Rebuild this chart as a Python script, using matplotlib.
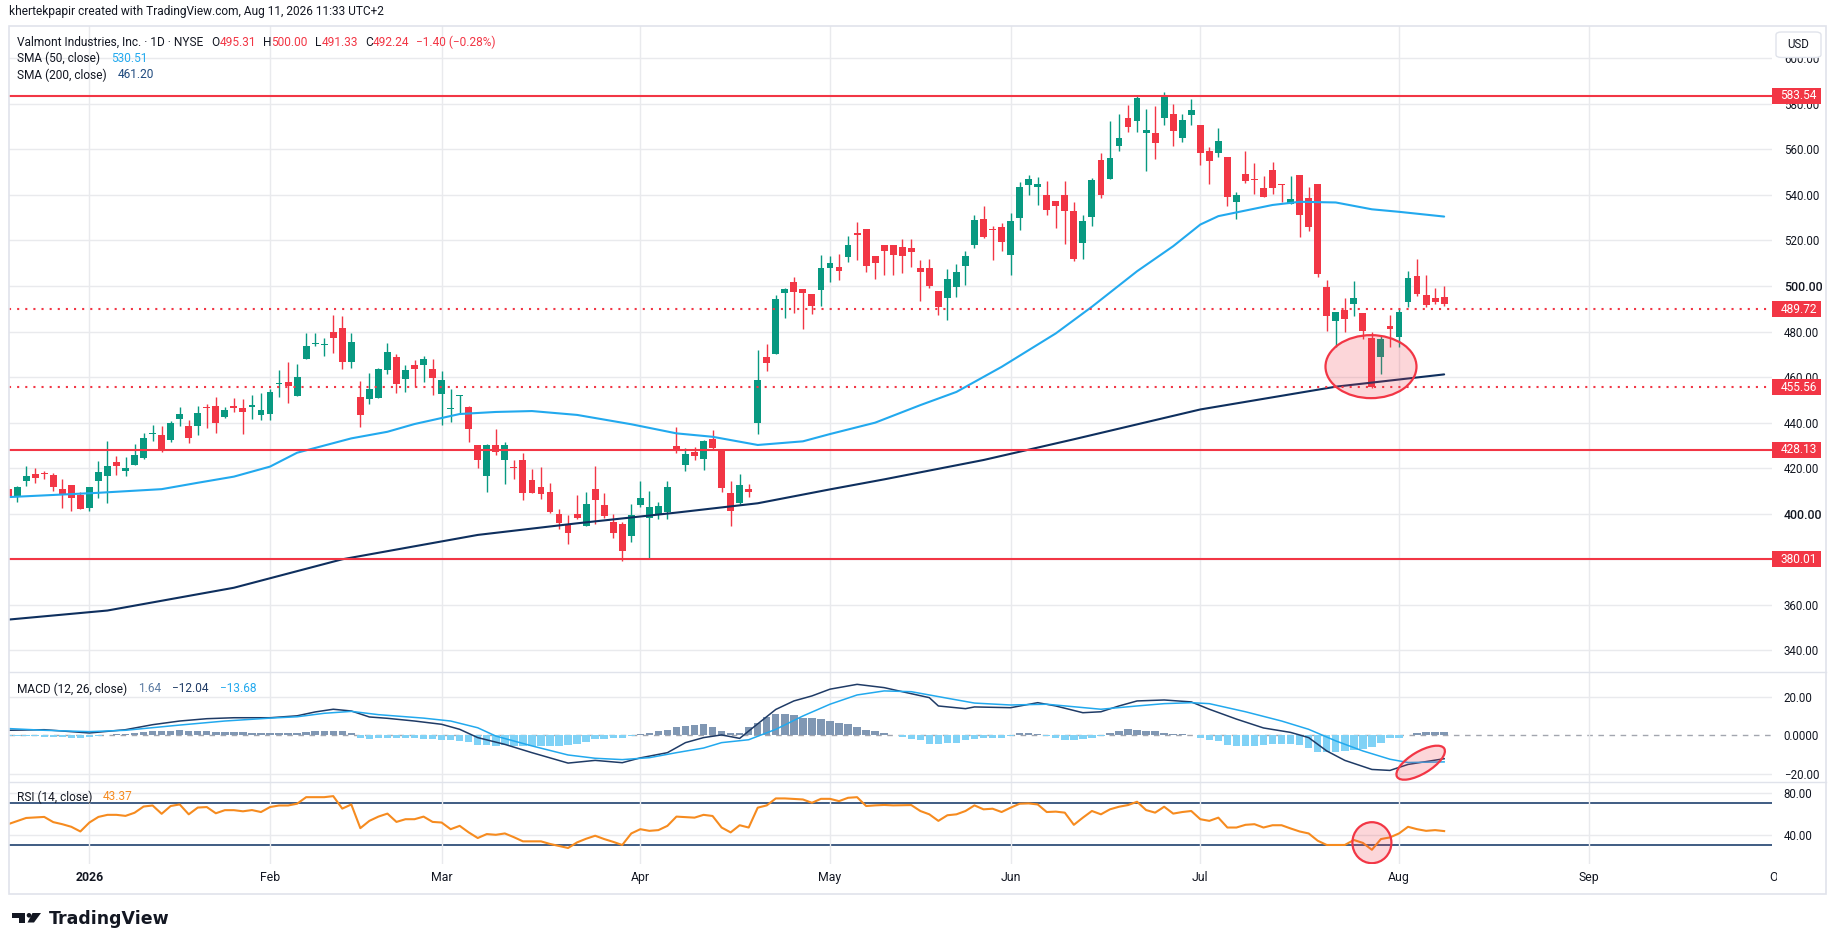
import matplotlib
matplotlib.use("Agg")
import matplotlib.pyplot as plt
import matplotlib.transforms as mtransforms
from matplotlib.lines import Line2D
from matplotlib.patches import Ellipse, Rectangle, FancyBboxPatch, Polygon, Circle
import numpy as np

plt.rcParams['font.family'] = ['Roboto', 'DejaVu Sans']

# daily bars, bar index 0 = first session of 2026 (Jan 2)
first_bar = -9

opens = [411.0, 407.5, 414.5, 417.4, 418.0, 417.0, 410.9, 412.6, 408.2, 402.7,
         414.5, 416.7, 422.6, 418.9, 421.5, 424.5, 435.0, 434.6, 432.5, 441.7,
         438.5, 438.7, 447.0, 447.3, 442.6, 447.3, 446.4, 447.0, 443.5, 443.9,
         456.8, 457.8, 451.8, 468.1, 474.5, 474.0, 479.8, 481.5, 466.8, 451.1,
         450.2, 451.0, 463.3, 468.7, 459.3, 465.3, 465.5, 463.4, 452.7, 446.2,
         451.5, 446.9, 430.0, 416.7, 430.0, 423.8, 420.3, 423.6, 414.8, 411.8,
         409.5, 399.9, 395.5, 399.7, 394.8, 410.8, 403.8, 396.2, 395.5, 390.4,
         404.0, 398.3, 399.9, 400.8, 429.7, 421.4, 427.3, 424.0, 432.8, 428.0,
         408.9, 404.6, 410.9, 440.0, 468.7, 470.3, 497.1, 501.6, 498.5, 496.3,
         498.4, 508.0, 508.3, 512.9, 523.2, 525.0, 513.2, 518.0, 518.0, 517.1,
         516.7, 507.9, 507.9, 497.8, 494.9, 499.7, 508.9, 518.1, 529.4, 525.0,
         525.9, 513.7, 530.0, 544.5, 543.3, 539.9, 537.3, 539.9, 532.9, 519.0,
         530.4, 555.3, 547.1, 561.6, 573.6, 572.6, 567.0, 567.2, 573.9, 575.5,
         565.1, 575.2, 570.7, 559.3, 558.5, 556.6, 536.7, 549.2, 547.0, 543.0,
         550.9, 544.7, 535.9, 548.7, 538.6, 544.8, 499.4, 484.8, 489.6, 491.9,
         488.0, 477.2, 469.0, 482.3, 477.7, 492.8, 504.3, 495.9, 494.6, 495.31]
highs = [412.5, 412.3, 421.1, 420.1, 418.7, 417.7, 415.2, 412.6, 409.4, 411.6,
         423.2, 431.9, 425.3, 424.8, 430.6, 435.4, 438.8, 438.5, 440.9, 447.0,
         441.2, 447.3, 448.0, 451.3, 446.8, 450.8, 450.4, 452.1, 453.0, 454.8,
         463.1, 466.8, 465.7, 479.5, 479.5, 477.3, 487.3, 486.8, 479.4, 458.3,
         461.8, 464.0, 475.0, 470.1, 465.3, 467.5, 469.3, 467.9, 462.7, 454.8,
         452.1, 447.3, 430.0, 430.6, 437.3, 431.3, 423.6, 426.7, 419.6, 420.5,
         413.5, 402.1, 399.3, 408.2, 409.5, 420.8, 409.0, 399.9, 396.5, 404.3,
         414.4, 410.0, 405.2, 414.4, 438.1, 428.7, 429.2, 432.4, 436.8, 428.0,
         414.4, 417.3, 413.1, 471.9, 474.5, 495.9, 499.3, 503.9, 498.5, 496.3,
         513.6, 513.2, 514.0, 521.9, 528.1, 525.0, 513.2, 518.0, 518.0, 520.6,
         520.6, 511.4, 511.8, 497.8, 507.5, 509.6, 515.4, 531.2, 535.1, 526.3,
         527.8, 532.0, 545.7, 548.9, 548.1, 546.1, 537.3, 546.1, 537.0, 531.2,
         547.4, 558.4, 572.4, 575.5, 579.3, 583.3, 577.7, 579.0, 585.2, 580.1,
         575.7, 582.1, 570.7, 560.9, 569.4, 556.6, 541.3, 559.3, 554.0, 548.3,
         554.4, 544.7, 548.3, 548.7, 543.3, 544.8, 502.5, 488.6, 494.6, 502.2,
         488.0, 479.6, 478.3, 487.1, 490.0, 506.6, 511.9, 504.8, 499.0, 500.00]
lows = [406.0, 405.3, 412.3, 413.6, 415.2, 410.0, 402.7, 401.3, 401.9, 401.3,
        407.1, 404.8, 417.2, 416.7, 421.5, 424.0, 432.1, 427.1, 431.6, 438.7,
        431.2, 434.7, 437.8, 435.6, 441.9, 444.8, 435.2, 441.7, 441.2, 441.3,
        451.4, 448.8, 451.8, 468.1, 473.8, 469.4, 470.7, 463.7, 464.1, 438.2,
        448.3, 451.0, 461.5, 453.2, 453.6, 455.8, 458.0, 452.3, 439.0, 440.4,
        444.1, 431.6, 420.2, 409.7, 425.8, 413.2, 415.4, 406.2, 409.3, 406.6,
        400.3, 393.2, 386.9, 397.8, 394.8, 395.6, 398.3, 389.5, 379.4, 387.7,
        402.9, 380.3, 397.5, 397.5, 426.8, 418.9, 423.6, 419.3, 428.3, 409.7,
        394.8, 404.3, 407.5, 435.0, 462.8, 470.3, 486.1, 488.3, 481.3, 487.9,
        491.4, 501.9, 502.8, 510.7, 511.5, 506.3, 503.1, 504.8, 504.8, 505.7,
        508.5, 493.6, 499.0, 487.4, 485.2, 495.3, 500.4, 516.8, 520.9, 511.5,
        515.5, 505.0, 524.6, 540.1, 535.7, 531.3, 525.6, 518.6, 511.1, 512.0,
        526.5, 538.8, 547.1, 559.4, 567.5, 567.6, 550.6, 555.9, 570.7, 561.6,
        563.4, 570.7, 553.1, 544.8, 556.6, 535.3, 529.4, 545.4, 540.3, 539.1,
        540.3, 536.7, 535.9, 521.7, 524.0, 503.8, 480.4, 473.4, 480.0, 487.0,
        476.9, 455.1, 461.5, 473.3, 473.4, 490.8, 495.8, 490.6, 491.9, 491.33]
closes = [407.5, 411.6, 416.6, 415.8, 417.3, 411.9, 408.8, 407.1, 402.2, 411.6,
          418.2, 421.0, 421.1, 420.1, 425.8, 433.2, 435.5, 427.7, 439.8, 443.7,
          433.4, 444.2, 446.4, 440.0, 445.5, 446.6, 444.8, 447.7, 445.5, 453.4,
          457.0, 456.2, 459.9, 473.6, 474.8, 474.3, 477.3, 466.8, 475.4, 443.5,
          454.6, 463.6, 471.0, 457.1, 463.1, 463.6, 467.9, 459.7, 458.7, 446.5,
          451.7, 437.3, 423.7, 430.3, 427.3, 430.2, 420.0, 409.3, 409.3, 408.8,
          400.9, 396.1, 391.7, 398.3, 404.3, 406.2, 399.0, 391.7, 383.8, 399.4,
          406.9, 402.8, 403.4, 411.8, 427.4, 426.2, 425.5, 431.9, 429.0, 411.4,
          401.3, 412.5, 409.7, 458.7, 466.3, 494.3, 498.5, 497.5, 497.1, 491.4,
          507.9, 510.1, 506.7, 518.0, 522.5, 508.9, 510.2, 515.5, 513.7, 513.3,
          515.1, 506.3, 500.0, 490.9, 503.1, 506.1, 513.2, 529.0, 521.7, 524.5,
          519.5, 528.5, 543.5, 547.0, 544.8, 533.5, 535.3, 533.1, 512.0, 528.5,
          546.5, 539.9, 556.2, 565.0, 570.0, 582.5, 568.5, 562.9, 583.6, 568.2,
          572.9, 577.3, 558.5, 555.0, 563.7, 539.2, 540.2, 546.2, 546.7, 539.2,
          543.2, 544.3, 538.2, 531.3, 525.8, 505.1, 487.0, 488.6, 485.7, 494.6,
          480.4, 455.8, 476.6, 481.3, 488.4, 503.4, 496.3, 491.5, 493.1, 492.24]

sma50_bar = [-9, 1, 8, 12, 16, 20, 23, 29, 33, 36, 41, 45, 49, 54, 60, 65, 69, 74,
             79, 82, 87, 92, 96, 101, 107, 111, 116, 120, 123, 125, 131, 134, 138,
             142, 145, 150]
sma50_val = [407.3, 409.2, 410.8, 413.6, 416.3, 420.7, 426.8, 433.1, 436.0, 439.4,
             443.8, 444.7, 445.1, 443.4, 439.3, 435.3, 433.8, 430.2, 431.8, 435.0,
             440.0, 447.7, 453.5, 464.5, 479.2, 490.9, 506.5, 517.5, 527.0, 530.7,
             535.6, 537.0, 536.7, 533.7, 532.6, 530.51]
sma200_bar = [-9, 2, 16, 28, 43, 54, 65, 74, 82, 88, 99, 109, 123, 138, 150]
sma200_val = [353.5, 357.5, 367.5, 380.0, 390.7, 395.8, 400.5, 404.6, 410.7, 415.1,
              423.6, 432.7, 445.8, 455.8, 461.20]

macd_bar = [-9, -5, 0, 4, 7, 10, 13, 16, 20, 23, 25, 27, 29, 31, 33, 36, 39, 41, 43,
            46, 49, 53, 56, 59, 61, 64, 66, 68, 70, 72, 73, 76, 78, 80, 82, 85, 88,
            90, 93, 94, 97, 98, 102, 105, 107, 110, 112, 114, 116, 119, 122, 124,
            127, 130, 133, 135, 137, 139, 142, 144, 146, 150]
macd_val = [2.7, 3.0, 1.3, 3.0, 5.6, 7.5, 8.7, 9.2, 9.2, 10.2, 12.2, 13.6, 12.7, 9.6,
            8.9, 7.5, 5.8, 3.2, -1.1, -4.6, -8.9, -14.3, -12.9, -14.1, -11.6, -8.9,
            -3.7, -1.1, 0.3, -1.5, 2.3, 13.5, 17.9, 20.5, 24.0, 26.5, 24.8, 22.7,
            19.6, 15.3, 13.9, 14.8, 14.4, 17.0, 15.3, 11.8, 12.3, 15.3, 17.9, 18.4,
            17.4, 13.6, 8.5, 3.9, 1.6, -1.1, -8.0, -12.9, -17.6, -18.1, -15.0, -12.04]
signal_bar = [-9, -5, 0, 4, 10, 15, 20, 23, 26, 29, 32, 37, 40, 43, 45, 49, 53, 56,
              59, 62, 65, 68, 70, 73, 76, 79, 82, 85, 88, 91, 95, 98, 102, 106, 112,
              116, 119, 122, 124, 128, 132, 135, 138, 141, 144, 146, 150]
signal_val = [3.6, 2.7, 2.0, 2.7, 5.4, 7.5, 9.0, 9.7, 11.5, 12.5, 10.8, 9.0, 7.5, 4.0,
              -0.3, -5.4, -10.1, -11.8, -12.5, -11.5, -8.9, -6.5, -3.7, -2.2, 3.2,
              10.1, 16.2, 21.0, 23.1, 22.7, 19.3, 16.8, 15.8, 16.2, 13.6, 15.3, 16.5,
              17.0, 16.5, 12.3, 7.5, 3.2, -2.8, -8.0, -12.3, -14.0, -13.68]
hist_val = [-0.3, -0.3, -0.3, -0.4, -0.6, -0.8, -1.0, -1.2, -1.4, -0.9,
            -0.5, 0.3, 0.6, 0.9, 1.4, 1.8, 2.2, 2.3, 2.5, 3.0,
            2.4, 2.3, 2.3, 1.8, 1.8, 1.8, 1.6, 1.5, 1.4, 1.3,
            1.3, 1.3, 1.4, 2.0, 2.3, 2.4, 2.3, 2.2, 1.1, -1.1,
            -1.6, -1.4, -1.3, -1.4, -1.5, -1.5, -1.6, -2.0, -2.3, -2.4,
            -2.6, -3.6, -4.8, -5.0, -5.2, -5.0, -5.2, -5.3, -5.3, -5.3,
            -5.3, -5.3, -4.9, -4.2, -3.6, -1.8, -1.6, -1.1, -1.1, -0.5,
            0.6, 1.3, 2.2, 3.0, 4.4, 4.7, 5.4, 5.7, 4.4, 2.3,
            1.5, 1.3, 4.4, 6.6, 9.6, 11.0, 11.3, 10.6, 9.1, 9.1,
            8.4, 7.5, 6.6, 6.1, 4.4, 2.8, 2.3, 1.3, 0.4, -0.6,
            -1.6, -2.2, -4.2, -4.2, -4.1, -3.7, -2.2, -1.6, -1.5, -1.1,
            -1.5, -0.3, 1.3, 1.3, 0.6, -0.4, -1.1, -2.5, -2.5, -1.8,
            -1.5, -0.4, 1.3, 2.3, 3.4, 2.8, 2.2, 2.3, 1.5, 0.9,
            0.6, 0.3, -1.1, -2.2, -2.8, -5.1, -5.4, -5.4, -5.4, -5.1,
            -4.6, -4.6, -4.6, -4.9, -6.6, -8.5, -8.5, -8.5, -8.0, -7.7,
            -7.2, -6.0, -3.7, -1.5, -1.1, 0.1, 1.1, 1.6, 1.6, 1.64]
rsi_val = [50, 53, 56, 56.5, 57, 52, 50, 47.5, 43, 51.6,
           57, 59, 59, 58, 61, 67, 68, 60, 67.5, 69,
           59.5, 66, 66.5, 60.5, 63.5, 63.5, 62.4, 63.6, 61.7, 66.5,
           68, 68, 69.7, 76, 76, 76, 77, 65, 69, 46.2,
           53.2, 57.3, 60.2, 52.2, 54.8, 54.8, 57.3, 52.2, 51.6, 45.2,
           48.4, 42.1, 36.7, 40.5, 39.8, 41.1, 37.5, 33.5, 33.5, 33.5,
           31, 29, 27.1, 32.5, 36, 38.9, 35.7, 33, 30, 41.1,
           45.2, 43.6, 44.3, 48.4, 57.3, 56.8, 56.3, 59, 57.9, 46.8,
           42.1, 49, 46.8, 65.9, 68.1, 74.8, 74.8, 74.3, 73.8, 70.6,
           74.4, 74.4, 72.2, 75.4, 76, 67.5, 68.1, 68.5, 68.1, 68.2,
           68.4, 62.7, 59.5, 53.2, 58.6, 59.5, 62.7, 68.1, 64.3, 64.9,
           61.7, 65.9, 69.7, 70, 69, 61.7, 62.1, 61.1, 49.4, 56.3,
           62.7, 59.5, 64.3, 66.8, 68.4, 71.6, 63.6, 61.1, 66.8, 60.2,
           61.7, 62.7, 54.8, 53.2, 56.3, 46.8, 46.8, 49.4, 50, 46.8,
           49, 49, 45.9, 43, 41.1, 34.1, 30, 30, 30, 34.8,
           32, 25.4, 35.7, 37.3, 41.1, 47.5, 45.2, 43.6, 44.3, 43.37]

solid_levels = [583.54, 428.13, 380.01]
dotted_levels = [489.72, 455.56]

month_names = ['2026', 'Feb', 'Mar', 'Apr', 'May', 'Jun', 'Jul', 'Aug', 'Sep', 'Oct']
month_bar = [0, 20, 39, 61, 82, 102, 123, 145, 166, 187]

price_ticks = list(range(340, 601, 20))
strong_ticks = [400, 500]

# highlighted areas: (bar, value)
mark_price = (141.9, 464.6)
mark_macd = (147.4, -14.1)
mark_rsi = (142.0, 32.2)

# ---- styling ----
GREEN = '#089981'
RED = '#F23645'
TXT = '#131722'
GRID = '#E9EAED'
BORDER = '#E0E3EB'
SMA50_C = '#22A9EE'
SMA200_C = '#0E2F5E'
MACD_C = '#1F3B66'
SIG_C = '#22A9EE'
HPOS = '#8097B3'
HNEG = '#80D2F6'
RSI_C = '#F68B1F'
BAND_C = '#0C3062'
FILL = (0.949, 0.212, 0.271, 0.2)

W, H = 1835, 951
fig = plt.figure(figsize=(W / 100, H / 100), dpi=100)
fig.patch.set_facecolor('white')


def rect(x0, y0, x1, y1):
    return [x0 / W, 1 - y1 / H, (x1 - x0) / W, (y1 - y0) / H]


PL, PR = 9, 1772
BAR_PX = 9.03
ax_p = fig.add_axes(rect(PL, 26, PR, 672))
ax_m = fig.add_axes(rect(PL, 672, PR, 782))
ax_r = fig.add_axes(rect(PL, 782, PR, 864))
# time axis reaches a few px under the price scale, like the clipped "Oct"
ax_t = fig.add_axes(rect(PL, 864, PR + 5, 894))

XL = (-8.9, 186.3)
for ax in (ax_p, ax_m, ax_r, ax_t):
    ax.set_xlim(*XL)
    for s in ax.spines.values():
        s.set_visible(False)
    ax.set_xticks(month_bar[:-1])
    ax.tick_params(axis='x', length=0, labelbottom=False)
    ax.yaxis.tick_right()
    ax.tick_params(axis='y', length=0, pad=8.5, labelsize=8.3, labelcolor=TXT)
    ax.set_facecolor('none')
ax_t.set_xlim(XL[0], XL[1] + 5 / BAR_PX)

for ax in (ax_p, ax_m, ax_r):
    ax.grid(axis='x', color=GRID, lw=1, zorder=0)

# ---- price pane ----
ax_p.set_ylim(330.5, 614.2)
ax_p.set_yticks(price_ticks)
ax_p.set_yticklabels([f'{v:.2f}' for v in price_ticks])
for lab, v in zip(ax_p.get_yticklabels(), price_ticks):
    if v in strong_ticks:
        lab.set_fontsize(8.9)
        lab.set_fontweight('medium')
ax_p.grid(axis='y', color=GRID, lw=1, zorder=0)

bars = np.arange(first_bar, first_bar + len(closes))
o = np.array(opens); hi = np.array(highs); lo = np.array(lows); c = np.array(closes)
col = np.where(c >= o, GREEN, RED)
ax_p.vlines(bars, lo, hi, colors=col, lw=1, zorder=3)
ax_p.bar(bars, np.maximum(np.abs(c - o), 0.45), bottom=np.minimum(o, c), width=0.76,
         color=col, linewidth=0, zorder=3.1)

ax_p.plot(sma50_bar, sma50_val, color=SMA50_C, lw=1.5, zorder=3.5, solid_capstyle='round')
ax_p.plot(sma200_bar, sma200_val, color=SMA200_C, lw=1.5, zorder=3.5, solid_capstyle='round')

for v in solid_levels:
    ax_p.axhline(v, color=RED, lw=1.5, zorder=4)
for v in dotted_levels:
    ax_p.axhline(v, color=RED, lw=1.5, ls=(0, (1, 2.9)), zorder=4)

btr = mtransforms.blended_transform_factory(ax_p.transAxes, ax_p.transData)
box_h = 16 / (646 / (614.2 - 330.5))
for v in solid_levels + dotted_levels:
    ax_p.add_patch(Rectangle((1.0, v - box_h / 2), 49 / (PR - PL), box_h, transform=btr,
                             facecolor=RED, edgecolor='none', clip_on=False, zorder=6))
    ax_p.text(1 + 8.5 / (PR - PL), v, f'{v:.2f}', transform=btr, color='white',
              fontsize=8.6, va='center', ha='left', clip_on=False, zorder=7)

ax_p.add_patch(Ellipse((0, 0), 0.91, 0.63, facecolor=FILL, edgecolor=RED, lw=1.6, zorder=5,
                       transform=fig.dpi_scale_trans + mtransforms.ScaledTranslation(
                           mark_price[0], mark_price[1], ax_p.transData)))

# ---- MACD pane ----
ax_m.set_ylim(-24.1, 32.9)
ax_m.set_yticks([20, 0, -20])
ax_m.set_yticklabels(['20.00', '0.0000', '\u221220.00'])
for v in (20, -20):
    ax_m.axhline(v, color=GRID, lw=1, zorder=0)
ax_m.axhline(0, color='#A3A6AF', lw=1, ls=(0, (4, 4)), zorder=1)
hv = np.array(hist_val)
ax_m.bar(bars, hv, width=0.82, color=np.where(hv >= 0, HPOS, HNEG), linewidth=0, zorder=2)
ax_m.plot(macd_bar, macd_val, color=MACD_C, lw=1.1, zorder=3)
ax_m.plot(signal_bar, signal_val, color=SIG_C, lw=1.1, zorder=3)
ax_m.add_patch(Ellipse((0, 0), 0.55, 0.22, angle=31, facecolor=FILL, edgecolor=RED, lw=1.6,
                       zorder=5,
                       transform=fig.dpi_scale_trans + mtransforms.ScaledTranslation(
                           mark_macd[0], mark_macd[1], ax_m.transData)))

# ---- RSI pane ----
ax_r.set_ylim(11.7, 90.6)
ax_r.set_yticks([80, 40])
ax_r.set_yticklabels(['80.00', '40.00'])
ax_r.grid(axis='y', color=GRID, lw=1, zorder=0)
ax_r.axhline(70, color=BAND_C, lw=1.1, zorder=1)
ax_r.axhline(30, color=BAND_C, lw=1.1, zorder=1)
ax_r.plot(bars, rsi_val, color=RSI_C, lw=1.5, zorder=3)
ax_r.add_patch(Ellipse((0, 0), 0.39, 0.41, facecolor=FILL, edgecolor=RED, lw=1.6, zorder=5,
                       transform=fig.dpi_scale_trans + mtransforms.ScaledTranslation(
                           mark_rsi[0], mark_rsi[1], ax_r.transData)))

# ---- time axis ----
ax_t.set_ylim(0, 1)
ax_t.set_yticks([])
for name, b in zip(month_names, month_bar):
    ax_t.text(b, 0.55, name, ha='center', va='center', fontsize=8.8, color=TXT,
              fontweight='bold' if name == '2026' else 'normal', clip_on=True)

# ---- frame and pane separators ----
fig.add_artist(Rectangle((PL / W, 1 - 894 / H), (1826 - PL) / W, (894 - 26) / H,
                         transform=fig.transFigure, fill=False, edgecolor=BORDER, lw=1.2))
for y in (672, 782):
    fig.add_artist(Line2D([PL / W, 1826 / W], [1 - y / H] * 2, transform=fig.transFigure,
                          color=BORDER, lw=1))

# currency box (covers the top of the 600.00 label, as on the original)
fig.add_artist(FancyBboxPatch((1776 / W, 1 - 57.5 / H), 45 / W, 25.5 / H,
                              boxstyle='round,pad=0,rounding_size=0.003',
                              transform=fig.transFigure, facecolor='white',
                              edgecolor=BORDER, lw=1, zorder=8))
fig.text(1798.5 / W, 1 - 45 / H, 'USD', ha='center', va='center', fontsize=8.3, color=TXT,
         zorder=9)

# ---- texts ----
renderer = fig.canvas.get_renderer()


def pieces(x, y, parts, size=8.6):
    for txt, color, gap in parts:
        t = fig.text(x / W, 1 - y / H, txt, color=color, fontsize=size, ha='left',
                     va='center')
        x += t.get_window_extent(renderer).width + gap


fig.text(9 / W, 1 - 12 / H, 'khertekpapir created with TradingView.com, Aug 11, 2026 11:33 UTC+2',
         fontsize=8.6, color=TXT, ha='left', va='center')

pieces(17, 42, [('Valmont Industries, Inc. \u00b7 1D \u00b7 NYSE', TXT, 8),
                ('O', TXT, 0), ('495.31', RED, 7), ('H', TXT, 0), ('500.00', RED, 7),
                ('L', TXT, 0), ('491.33', RED, 7), ('C', TXT, 0), ('492.24', RED, 7),
                ('\u22121.40 (\u22120.28%)', RED, 0)])
pieces(17, 58, [('SMA (50, close)', TXT, 11), ('530.51', SMA50_C, 0)])
pieces(17, 75, [('SMA (200, close)', TXT, 11), ('461.20', '#1F4A7E', 0)])
pieces(17, 689, [('MACD (12, 26, close)', TXT, 11), ('1.64', '#5B7BA3', 11),
                 ('\u221212.04', MACD_C, 11), ('\u221213.68', SIG_C, 0)])
pieces(17, 797, [('RSI (14, close)', TXT, 10), ('43.37', RSI_C, 0)])

# TradingView logo
px_tr = mtransforms.Affine2D().scale(1 / W, -1 / H).translate(0, 1) + fig.transFigure
fig.add_artist(Polygon([(12, 913), (25, 913), (25, 922.5), (18.5, 922.5), (18.5, 917.5),
                        (12, 917.5)], closed=True, transform=px_tr, facecolor=TXT,
                       edgecolor='none'))
fig.add_artist(Circle((29, 915.3), 2.3, transform=px_tr, facecolor=TXT, edgecolor='none'))
fig.add_artist(Polygon([(32.5, 913), (41, 913), (34, 922.5), (27.5, 922.5)], closed=True,
                       transform=px_tr, facecolor=TXT, edgecolor='none'))
fig.text(49 / W, 1 - 919 / H, 'TradingView', fontsize=12.5, fontweight='bold', color=TXT,
         family=['DejaVu Sans'], ha='left', va='center')

fig.savefig('out.png', dpi=100, facecolor='white')
